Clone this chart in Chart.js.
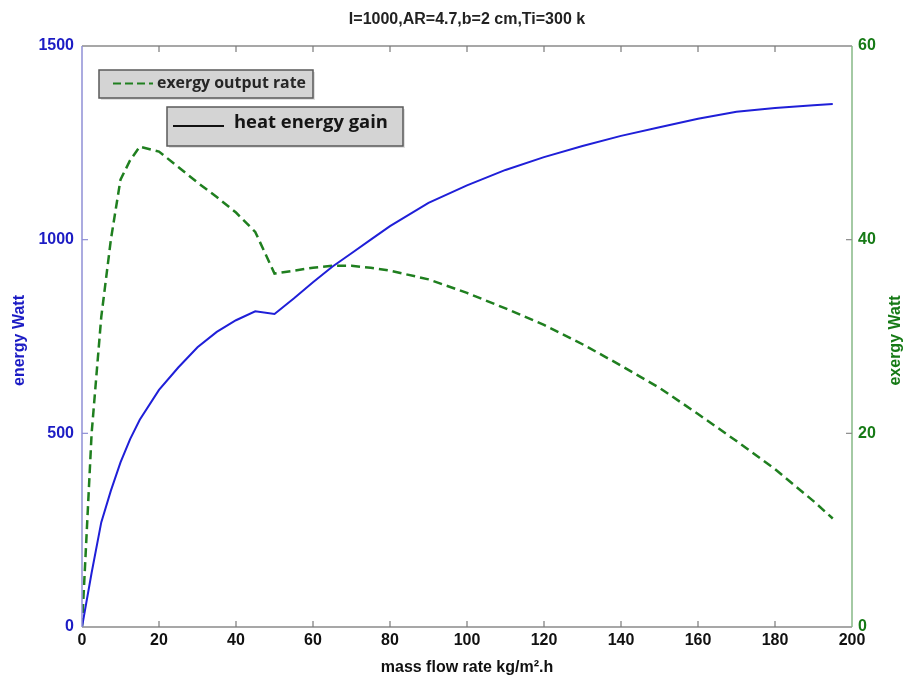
<!DOCTYPE html>
<html>
<head>
<meta charset="utf-8">
<script src="https://cdn.jsdelivr.net/npm/chart.js@4.4.1/dist/chart.umd.min.js"></script>
<style>
  html, body { margin: 0; padding: 0; background: #ffffff; }
  #wrap { width: 909px; height: 685px; position: relative; }
</style>
</head>
<body>
<div id="wrap"><canvas id="c" width="909" height="685"></canvas></div>
<script>
// ---- data ----
const massFlow     = [0, 2.5, 5, 7.5, 10, 12.5, 15, 20, 25, 30, 35, 40, 45, 50, 55, 60, 65, 70, 75, 80, 90, 100, 110, 120, 130, 140, 150, 160, 170, 180, 190, 195];
const energyGain   = [0, 140, 270, 352, 425, 485, 535, 612, 670, 722, 762, 792, 815, 808, 848, 890, 930, 965, 1000, 1035, 1095, 1140, 1180, 1213, 1242, 1268, 1290, 1312, 1330, 1340, 1347, 1350];
const exergyOutput = [0, 20, 32, 40, 46.2, 48.2, 49.6, 49.1, 47.5, 45.9, 44.4, 42.8, 40.8, 36.5, 36.8, 37.1, 37.3, 37.3, 37.1, 36.8, 35.9, 34.5, 32.9, 31.2, 29.2, 27.0, 24.7, 22.0, 19.2, 16.3, 13.0, 11.2];
const xTickValues      = [0, 20, 40, 60, 80, 100, 120, 140, 160, 180, 200];
const energyTickValues = [0, 500, 1000, 1500];
const exergyTickValues = [0, 20, 40, 60];

const titleText   = 'I=1000,AR=4.7,b=2 cm,Ti=300 k';
const xTitle      = 'mass flow rate kg/m\u00B2.h';
const yLeftTitle  = 'energy Watt';
const yRightTitle = 'exergy Watt';
const legendExergy = 'exergy output rate';
const legendEnergy = 'heat energy gain';

const BLUE_TXT = '#1c1cc4';
const GREEN_TXT = '#167a16';
const BLUE_LINE = '#1f1fd8';
const GREEN_LINE = '#1f7f1f';

const energyPts = massFlow.map((x, i) => ({ x: x, y: energyGain[i] }));
const exergyPts = massFlow.map((x, i) => ({ x: x, y: exergyOutput[i] }));

const tickFont = { family: 'Liberation Sans, Arial, sans-serif', size: 16, weight: 'bold' };
const plainNum = v => String(v);

function fitText(ctx, text, family, baseSize, targetW) {
  ctx.font = 'bold ' + baseSize + 'px ' + family;
  const w = ctx.measureText(text).width;
  const size = baseSize * targetW / w;
  ctx.font = 'bold ' + size.toFixed(2) + 'px ' + family;
}

const decor = {
  id: 'decor',
  afterDatasetsDraw(chart) {
    const ctx = chart.ctx;
    const a = chart.chartArea;
    const xs = chart.scales.x, yl = chart.scales.y, yr = chart.scales.y1;
    ctx.save();
    // frame
    ctx.lineWidth = 1.5;
    ctx.strokeStyle = '#8a8a8a';
    ctx.beginPath(); ctx.moveTo(a.left, a.top); ctx.lineTo(a.right, a.top); ctx.stroke();
    ctx.beginPath(); ctx.moveTo(a.left, a.bottom); ctx.lineTo(a.right, a.bottom); ctx.stroke();
    ctx.strokeStyle = '#8f8fd6';
    ctx.beginPath(); ctx.moveTo(a.left, a.top); ctx.lineTo(a.left, a.bottom); ctx.stroke();
    ctx.strokeStyle = '#86b886';
    ctx.beginPath(); ctx.moveTo(a.right, a.top); ctx.lineTo(a.right, a.bottom); ctx.stroke();
    // inward ticks
    ctx.strokeStyle = '#7a7a7a';
    ctx.lineWidth = 1.2;
    const tl = 6;
    xTickValues.forEach(v => {
      if (v === 0 || v === 200) return;
      const px = xs.getPixelForValue(v);
      ctx.beginPath(); ctx.moveTo(px, a.bottom); ctx.lineTo(px, a.bottom - tl); ctx.stroke();
      ctx.beginPath(); ctx.moveTo(px, a.top); ctx.lineTo(px, a.top + tl); ctx.stroke();
    });
    ctx.strokeStyle = '#8f8fd6';
    energyTickValues.forEach(v => {
      if (v === 0 || v === 1500) return;
      const py = yl.getPixelForValue(v);
      ctx.beginPath(); ctx.moveTo(a.left, py); ctx.lineTo(a.left + tl, py); ctx.stroke();
    });
    ctx.strokeStyle = '#8a8a8a';
    exergyTickValues.forEach(v => {
      if (v === 0 || v === 60) return;
      const py = yr.getPixelForValue(v);
      ctx.beginPath(); ctx.moveTo(a.right, py); ctx.lineTo(a.right - tl, py); ctx.stroke();
    });

    // title
    ctx.fillStyle = '#222';
    ctx.font = 'bold 16px Liberation Sans, Arial, sans-serif';
    ctx.textAlign = 'center'; ctx.textBaseline = 'middle';
    ctx.fillText(titleText, (a.left + a.right) / 2, 20);
    // x title
    ctx.fillStyle = '#111';
    ctx.font = 'bold 16px Liberation Sans, Arial, sans-serif';
    ctx.fillText(xTitle, (a.left + a.right) / 2, 668);
    // y titles (both read bottom-to-top)
    ctx.save();
    ctx.translate(20, (a.top + a.bottom) / 2 + 4);
    ctx.rotate(-Math.PI / 2);
    ctx.fillStyle = BLUE_TXT;
    ctx.fillText(yLeftTitle, 0, 0);
    ctx.restore();
    ctx.save();
    ctx.translate(896, (a.top + a.bottom) / 2 + 4);
    ctx.rotate(-Math.PI / 2);
    ctx.fillStyle = GREEN_TXT;
    ctx.fillText(yRightTitle, 0, 0);
    ctx.restore();

    // legend boxes
    function box(x, y, w, h) {
      ctx.fillStyle = 'rgba(0,0,0,0.12)';
      ctx.fillRect(x + 2, y + 2, w, h);
      ctx.fillStyle = '#d4d4d4';
      ctx.fillRect(x, y, w, h);
      ctx.lineWidth = 1.5;
      ctx.strokeStyle = '#5a5a5a';
      ctx.strokeRect(x, y, w, h);
    }
    box(99, 70, 214, 28);
    ctx.strokeStyle = GREEN_LINE;
    ctx.lineWidth = 2;
    ctx.setLineDash([8, 4]);
    ctx.beginPath(); ctx.moveTo(113, 83.5); ctx.lineTo(153, 83.5); ctx.stroke();
    ctx.setLineDash([]);
    ctx.fillStyle = '#262626';
    ctx.textAlign = 'left';
    fitText(ctx, legendExergy, '"Open Sans", Lato, sans-serif', 15, 149);
    ctx.fillText(legendExergy, 157, 83);

    box(167, 107, 236, 39);
    ctx.strokeStyle = '#111';
    ctx.lineWidth = 2;
    ctx.beginPath(); ctx.moveTo(173, 126); ctx.lineTo(224, 126); ctx.stroke();
    ctx.fillStyle = '#151515';
    fitText(ctx, legendEnergy, '"Open Sans", Lato, sans-serif', 17, 154);
    ctx.fillText(legendEnergy, 234, 123);
    ctx.restore();
  }
};

new Chart(document.getElementById('c'), {
  type: 'line',
  data: {
    datasets: [
      {
        label: legendEnergy,
        data: energyPts,
        yAxisID: 'y',
        borderColor: BLUE_LINE,
        borderWidth: 2,
        pointRadius: 0,
        tension: 0,
        fill: false
      },
      {
        label: legendExergy,
        data: exergyPts,
        yAxisID: 'y1',
        borderColor: GREEN_LINE,
        borderWidth: 2.5,
        borderDash: [9, 5],
        pointRadius: 0,
        tension: 0,
        fill: false
      }
    ]
  },
  options: {
    responsive: false,
    animation: false,
    layout: { padding: { top: 46, left: 0, right: 0, bottom: 0 } },
    plugins: { legend: { display: false }, title: { display: false }, tooltip: { enabled: false } },
    scales: {
      x: {
        type: 'linear', min: 0, max: 200,
        afterBuildTicks: s => { s.ticks = xTickValues.map(v => ({ value: v })); },
        afterFit: s => { s.height = 58; },
        grid: { display: false, drawTicks: false },
        border: { display: false },
        ticks: { color: '#111', font: tickFont, padding: 4, maxRotation: 0, callback: plainNum }
      },
      y: {
        type: 'linear', position: 'left', min: 0, max: 1500,
        afterBuildTicks: s => { s.ticks = energyTickValues.map(v => ({ value: v })); },
        afterFit: s => { s.width = 82; },
        grid: { display: false, drawTicks: false },
        border: { display: false },
        ticks: { color: BLUE_TXT, font: tickFont, padding: 8, callback: plainNum }
      },
      y1: {
        type: 'linear', position: 'right', min: 0, max: 60,
        afterBuildTicks: s => { s.ticks = exergyTickValues.map(v => ({ value: v })); },
        afterFit: s => { s.width = 57; },
        grid: { display: false, drawTicks: false },
        border: { display: false },
        ticks: { color: GREEN_TXT, font: tickFont, padding: 6, callback: plainNum }
      }
    }
  },
  plugins: [decor]
});
</script>
</body>
</html>
